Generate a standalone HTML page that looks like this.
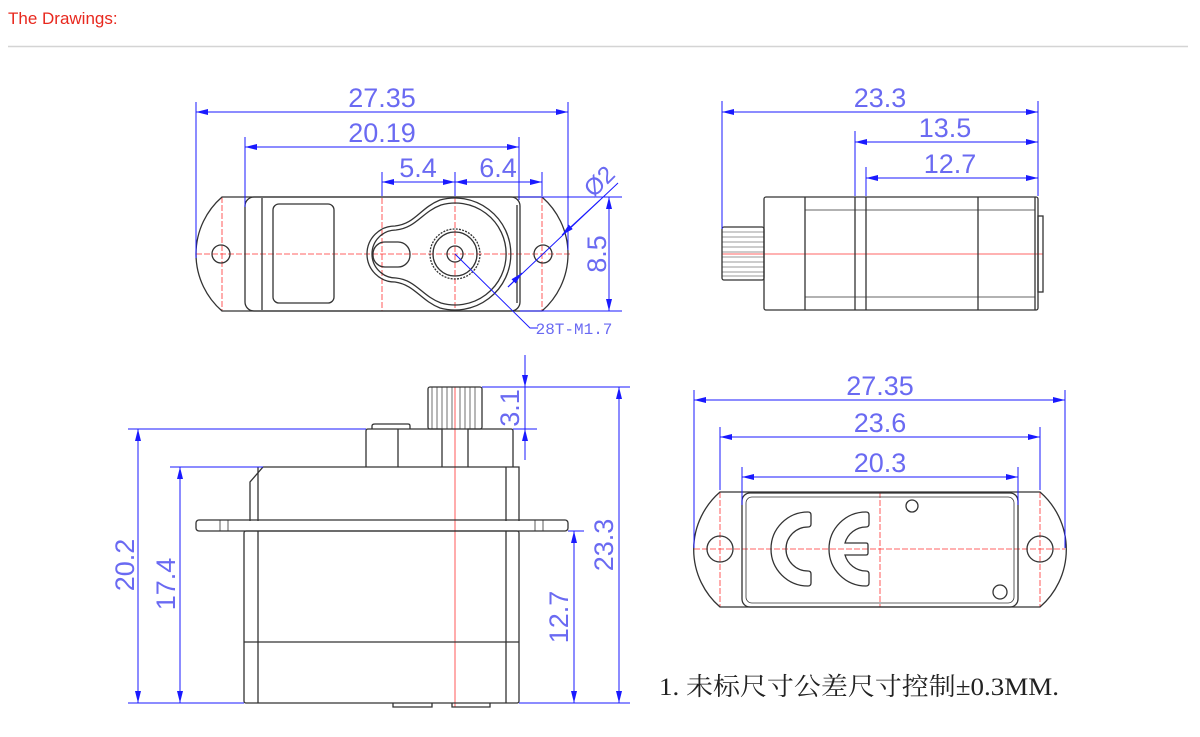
<!DOCTYPE html>
<html><head><meta charset="utf-8"><style>
html,body{margin:0;padding:0;background:#fff;width:1200px;height:737px;overflow:hidden}
</style></head><body>
<svg width="1200" height="737" viewBox="0 0 1200 737" xmlns="http://www.w3.org/2000/svg">
<defs>
<marker id="a" viewBox="0 0 12 6" refX="12" refY="3" markerWidth="12" markerHeight="6" markerUnits="userSpaceOnUse" orient="auto-start-reverse"><path d="M0,0 L12,3 L0,6 Z" fill="#1a1aff"/></marker>
</defs>
<text x="8" y="24" font-family="Liberation Sans, sans-serif" font-size="17" fill="#e8281e">The Drawings:</text>
<line x1="8" y1="46.5" x2="1188" y2="46.5" stroke="#d4d4d4" stroke-width="1.5"/>

<g font-family="Liberation Sans, sans-serif" font-size="27" fill="#6a6af2" text-anchor="middle">
<!-- TOP LEFT -->
<g stroke="#ff3030" stroke-width="0.8" stroke-dasharray="6,2" fill="none">
<line x1="196" y1="254" x2="570" y2="254"/>
<line x1="222" y1="197" x2="222" y2="311"/>
<line x1="382" y1="190" x2="382" y2="311"/>
<line x1="455" y1="190" x2="455" y2="311"/>
<line x1="542" y1="197" x2="542" y2="311"/>
</g>
<g stroke="#333" stroke-width="1.3" fill="none">
<path d="M222,197 L542,197 A75.5,75.5 0 0 1 542,311 L222,311 A75.5,75.5 0 0 1 222,197 Z"/>
<circle cx="221" cy="254" r="9"/><circle cx="543" cy="254" r="9"/>
<rect x="245" y="197" width="275" height="114" rx="9"/>
<line x1="262" y1="198" x2="262" y2="310"/>
<line x1="517" y1="205" x2="517" y2="303"/>
<rect x="273" y="204" width="61" height="99" rx="6"/>
<path d="M440,200 A56,56 0 1 1 440,308 C420,300 415,285 395,282 A28,28 0 0 1 395,226 C415,224 420,208 440,200 Z"/>
<path d="M441,205 A51,51 0 1 1 441,303 C422,296 416,280 396,278 A24,24 0 0 1 396,230 C416,228 422,212 441,205 Z"/>
<rect x="373" y="242" width="37" height="25" rx="12"/>
<circle cx="455" cy="254" r="25" stroke-dasharray="2,1.2"/>
<circle cx="455" cy="254" r="22"/>
<circle cx="455" cy="254" r="8"/>
</g>
<g stroke="#1a1aff" stroke-width="1" fill="none">
<line x1="196" y1="102" x2="196" y2="258"/><line x1="568" y1="102" x2="568" y2="250"/>
<line x1="196" y1="112" x2="568" y2="112" marker-start="url(#a)" marker-end="url(#a)"/>
<line x1="245" y1="137" x2="245" y2="207"/><line x1="519" y1="137" x2="519" y2="200"/>
<line x1="245" y1="147" x2="519" y2="147" marker-start="url(#a)" marker-end="url(#a)"/>
<line x1="382" y1="172" x2="382" y2="196"/><line x1="455" y1="172" x2="455" y2="196"/><line x1="542" y1="172" x2="542" y2="196"/>
<line x1="382" y1="182" x2="455" y2="182" marker-start="url(#a)" marker-end="url(#a)"/>
<line x1="455" y1="182" x2="542" y2="182" marker-start="url(#a)" marker-end="url(#a)"/>
<line x1="520" y1="197" x2="622" y2="197"/><line x1="520" y1="311" x2="622" y2="311"/>
<line x1="609" y1="197" x2="609" y2="311" marker-start="url(#a)" marker-end="url(#a)"/>
<line x1="618" y1="183" x2="508" y2="287"/>
<line x1="600" y1="200" x2="562" y2="235" marker-end="url(#a)"/>
<line x1="508" y1="287" x2="522" y2="273" marker-end="url(#a)"/>
<polyline points="455,254 530,328 538,328"/>
</g>
<text x="382" y="107">27.35</text>
<text x="382" y="142">20.19</text>
<text x="418" y="177">5.4</text>
<text x="498" y="177">6.4</text>
<text x="596" y="264" transform="rotate(-90 596 254)" dy="0">8.5</text>
<text x="598" y="190" transform="rotate(-45 598 180)" font-size="24">Ø2</text>
<text x="574" y="334" font-size="16" font-family="Liberation Mono, monospace">28T-M1.7</text>

<!-- TOP RIGHT -->
<line x1="722" y1="254" x2="1043" y2="254" stroke="#ff3030" stroke-width="0.8"/>
<g stroke="#333" stroke-width="1.3" fill="none">
<rect x="764" y="197" width="274" height="113" rx="2"/>
<line x1="805" y1="197" x2="805" y2="310"/>
<line x1="855" y1="197" x2="855" y2="310"/><line x1="866" y1="197" x2="866" y2="310"/>
<line x1="978" y1="197" x2="978" y2="310"/><line x1="1035" y1="197" x2="1035" y2="310"/>
<line x1="805" y1="210" x2="1035" y2="210" stroke-width="0.8"/><line x1="805" y1="297" x2="1035" y2="297" stroke-width="0.8"/>
<rect x="1038" y="216" width="5" height="76"/>
<rect x="722" y="227" width="42" height="53" rx="2"/>
<path d="M722,232 H764 M722,237 H764 M722,242 H764 M722,247 H764 M722,252 H764 M722,257 H764 M722,262 H764 M722,267 H764 M722,272 H764 M722,276 H764" stroke-width="0.6"/>
</g>
<g stroke="#1a1aff" stroke-width="1" fill="none">
<line x1="722" y1="101" x2="722" y2="229"/><line x1="1038" y1="101" x2="1038" y2="196"/>
<line x1="722" y1="112" x2="1038" y2="112" marker-start="url(#a)" marker-end="url(#a)"/>
<line x1="855" y1="131" x2="855" y2="196"/>
<line x1="855" y1="142" x2="1038" y2="142" marker-start="url(#a)" marker-end="url(#a)"/>
<line x1="866" y1="167" x2="866" y2="196"/>
<line x1="866" y1="178" x2="1038" y2="178" marker-start="url(#a)" marker-end="url(#a)"/>
</g>
<text x="880" y="107">23.3</text>
<text x="945" y="137">13.5</text>
<text x="950" y="173">12.7</text>

<!-- BOTTOM LEFT -->
<line x1="455" y1="387" x2="455" y2="707" stroke="#ff3030" stroke-width="0.8"/>
<g stroke="#333" stroke-width="1.3" fill="none">
<rect x="428" y="387" width="54" height="42" rx="2"/>
<path d="M432,387 V429 M437,387 V429 M442,387 V429 M447,387 V429 M452,387 V429 M460,387 V429 M465,387 V429 M470,387 V429 M475,387 V429" stroke-width="0.7"/>
<path d="M442,467 V429 H368 Q366,429 366,431 V467"/>
<path d="M468,467 V429 H511 Q513,429 513,431 V467"/>
<path d="M372,429 V426 Q372,424 375,424 H408 Q410,424 410,426 V429"/>
<line x1="398" y1="429" x2="398" y2="467"/>
<path d="M250,521 V482 L263,467 H519 V521"/>
<line x1="258" y1="467" x2="258" y2="521"/>
<line x1="506" y1="467" x2="506" y2="521"/>
<rect x="196" y="520" width="372" height="11" rx="3"/>
<path d="M220,520 V531 M228,520 V531 M535,520 V531 M543,520 V531" stroke-width="0.8"/>
<rect x="244" y="531" width="275" height="172" rx="2"/>
<line x1="258" y1="531" x2="258" y2="703"/><line x1="506" y1="531" x2="506" y2="703"/>
<line x1="244" y1="642" x2="519" y2="642"/>
<path d="M393,703 V707 H432 V703 M452,703 V707 H490 V703"/>
</g>
<g stroke="#1a1aff" stroke-width="1" fill="none">
<line x1="128" y1="429" x2="366" y2="429"/><line x1="128" y1="703" x2="244" y2="703"/>
<line x1="138" y1="429" x2="138" y2="703" marker-start="url(#a)" marker-end="url(#a)"/>
<line x1="170" y1="467" x2="263" y2="467"/>
<line x1="180" y1="467" x2="180" y2="703" marker-start="url(#a)" marker-end="url(#a)"/>
<line x1="482" y1="387" x2="630" y2="387"/><line x1="513" y1="429" x2="537" y2="429"/>
<line x1="525" y1="355" x2="525" y2="387" marker-end="url(#a)"/>
<line x1="525" y1="460" x2="525" y2="429" marker-end="url(#a)"/>
<line x1="525" y1="387" x2="525" y2="429"/>
<line x1="519" y1="703" x2="630" y2="703"/>
<line x1="619" y1="387" x2="619" y2="703" marker-start="url(#a)" marker-end="url(#a)"/>
<line x1="568" y1="531" x2="584" y2="531"/>
<line x1="574" y1="531" x2="574" y2="703" marker-start="url(#a)" marker-end="url(#a)"/>
</g>
<text x="125" y="574" transform="rotate(-90 125 565)">20.2</text>
<text x="166" y="593" transform="rotate(-90 166 584)">17.4</text>
<text x="510" y="417" transform="rotate(-90 510 408)">3.1</text>
<text x="604" y="554" transform="rotate(-90 604 545)">23.3</text>
<text x="559" y="626" transform="rotate(-90 559 617)">12.7</text>

<!-- BOTTOM RIGHT -->
<g stroke="#ff3030" stroke-width="0.8" stroke-dasharray="6,2" fill="none">
<line x1="694" y1="549" x2="1065" y2="549"/>
<line x1="720" y1="492" x2="720" y2="607"/>
<line x1="880" y1="492" x2="880" y2="607"/>
<line x1="1040" y1="492" x2="1040" y2="607"/>
</g>
<g stroke="#333" stroke-width="1.3" fill="none">
<path d="M720,492 L1040,492 A76,76 0 0 1 1040,607 L720,607 A76,76 0 0 1 720,492 Z"/>
<circle cx="720" cy="549" r="13"/><circle cx="1040" cy="549" r="13"/>
<rect x="742" y="493" width="276" height="114" rx="8"/>
<rect x="746" y="497" width="268" height="106" rx="6" stroke-width="0.8"/>
<path d="M808,512 A37,37 0 0 0 808,586 Q811,586 811,583 V574 Q811,571 808,571 A22,22 0 0 1 808,527 Q811,527 811,524 V515 Q811,512 808,512 Z"/>
<path d="M866,512 A37,37 0 0 0 866,586 Q869,586 869,583 V574 Q869,571 866,571 A22,22 0 0 1 845,555 H866 Q868,555 868,553 V545 Q868,543 866,543 H845 A22,22 0 0 1 866,527 Q869,527 869,524 V515 Q869,512 866,512 Z"/>
<circle cx="912" cy="506" r="6"/><circle cx="1000" cy="592" r="7"/>
</g>
<g stroke="#1a1aff" stroke-width="1" fill="none">
<line x1="694" y1="390" x2="694" y2="548"/><line x1="1065" y1="390" x2="1065" y2="548"/>
<line x1="694" y1="400" x2="1065" y2="400" marker-start="url(#a)" marker-end="url(#a)"/>
<line x1="720" y1="427" x2="720" y2="490"/><line x1="1040" y1="427" x2="1040" y2="490"/>
<line x1="720" y1="437" x2="1040" y2="437" marker-start="url(#a)" marker-end="url(#a)"/>
<line x1="742" y1="467" x2="742" y2="505"/><line x1="1018" y1="467" x2="1018" y2="505"/>
<line x1="742" y1="477" x2="1018" y2="477" marker-start="url(#a)" marker-end="url(#a)"/>
</g>
<text x="880" y="395">27.35</text>
<text x="880" y="432">23.6</text>
<text x="880" y="472">20.3</text>
</g>

<text x="659" y="695" font-family="Liberation Serif, 'Noto Serif CJK SC', serif" font-size="25" fill="#222" textLength="400" lengthAdjust="spacingAndGlyphs">1. 未标尺寸公差尺寸控制±0.3MM.</text>
</svg>
</body></html>
